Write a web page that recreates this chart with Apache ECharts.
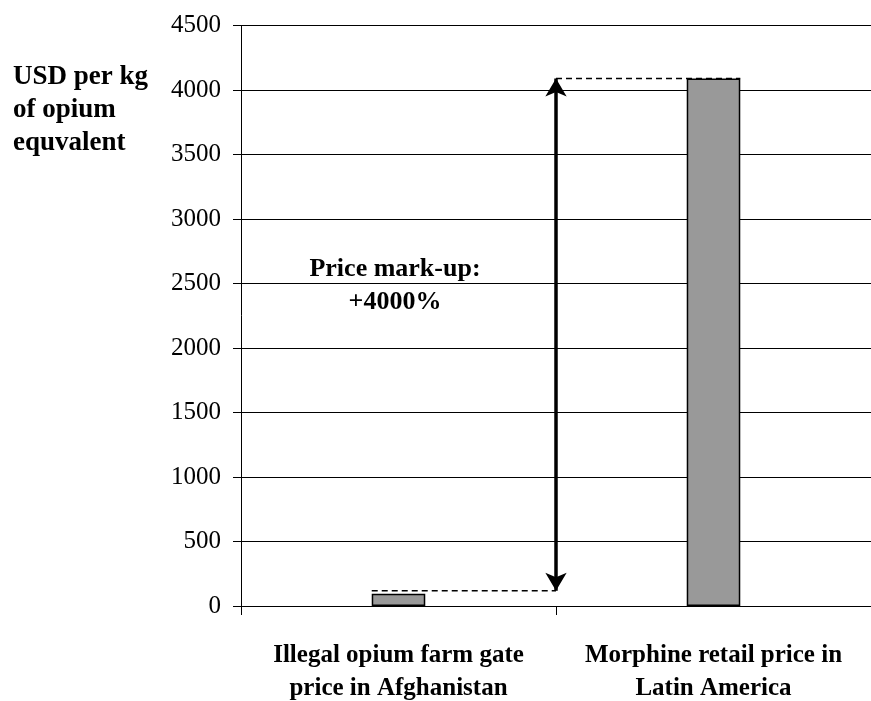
<!DOCTYPE html>
<html>
<head>
<meta charset="utf-8">
<script src="https://cdn.jsdelivr.net/npm/echarts@6/dist/echarts.min.js"></script>
<style>
    html, body { margin: 0; padding: 0; background: #fff; }
    #chart { width: 871px; height: 701px; }
</style>
</head>
<body>
<div id="chart"></div>
<script>
// ---- data ----
var categories = ['Illegal opium farm gate\nprice in Afghanistan', 'Morphine retail price in\nLatin America'];
var prices = [95, 4090];
var yMin = 0, yMax = 4500, yStep = 500;

// mark-up guides (x on a 0..2 helper scale, 1 = boundary between the categories)
var guideTop = [[1, 4090], [1.585, 4090]];
var guideBottom = [[0.415, 118], [1, 118]];
var arrowEnds = [[1, 118], [1, 4090]];

var serif = "'Liberation Serif', 'Times New Roman', serif";

var chart = echarts.init(document.getElementById('chart'));

var option = {
    backgroundColor: '#fff',
    animation: false,
    title: {
        text: 'USD per kg\nof opium\nequvalent',
        left: 8,
        top: 56,
        textStyle: { fontFamily: serif, fontWeight: 'bold', fontSize: 27, lineHeight: 33, color: '#000' }
    },
    graphic: [{
        type: 'text',
        style: {
            x: 395,
            y: 253,
            text: 'Price mark-up:\n+4000%',
            font: 'bold 26px ' + serif,
            lineHeight: 33,
            fill: '#000',
            align: 'center',
            textAlign: 'center'
        }
    }],
    grid: { left: 241, right: 0, top: 25.5, bottom: 95, outerBoundsMode: 'none' },
    xAxis: [{
        type: 'category',
        data: categories,
        axisLine: { lineStyle: { color: '#000', width: 1 } },
        axisTick: { show: true, length: 9, lineStyle: { color: '#000' } },
        axisLabel: {
            color: '#000', fontFamily: serif, fontWeight: 'bold', fontSize: 25,
            lineHeight: 33, margin: 33, interval: 0
        }
    }, {
        type: 'value', min: 0, max: 2, show: false
    }],
    yAxis: {
        type: 'value',
        min: yMin, max: yMax, interval: yStep,
        axisLine: { show: true, lineStyle: { color: '#000', width: 1 } },
        axisTick: { show: true, length: 8, lineStyle: { color: '#000' } },
        axisLabel: {
            color: '#000', fontFamily: serif, fontSize: 25, margin: 20,
            formatter: function (v) { return String(v); }
        },
        splitLine: { lineStyle: { color: '#000', width: 1 } }
    },
    series: [{
        type: 'bar',
        data: prices,
        barWidth: '17%',
        itemStyle: { color: '#999999', borderColor: '#000', borderWidth: 1.5 }
    }, {
        type: 'line',
        xAxisIndex: 1,
        data: guideTop,
        symbol: 'none',
        lineStyle: { color: '#000', width: 1.5, type: [6, 4] }
    }, {
        type: 'line',
        xAxisIndex: 1,
        data: guideBottom,
        symbol: 'none',
        lineStyle: { color: '#000', width: 1.5, type: [6, 4] },
        markLine: {
            silent: true,
            symbol: ['arrow', 'arrow'],
            symbolSize: [16, 18],
            label: { show: false },
            lineStyle: { color: '#000', width: 3.5, type: 'solid' },
            data: [[{ coord: arrowEnds[0] }, { coord: arrowEnds[1] }]]
        }
    }]
};

chart.setOption(option);
</script>
</body>
</html>
